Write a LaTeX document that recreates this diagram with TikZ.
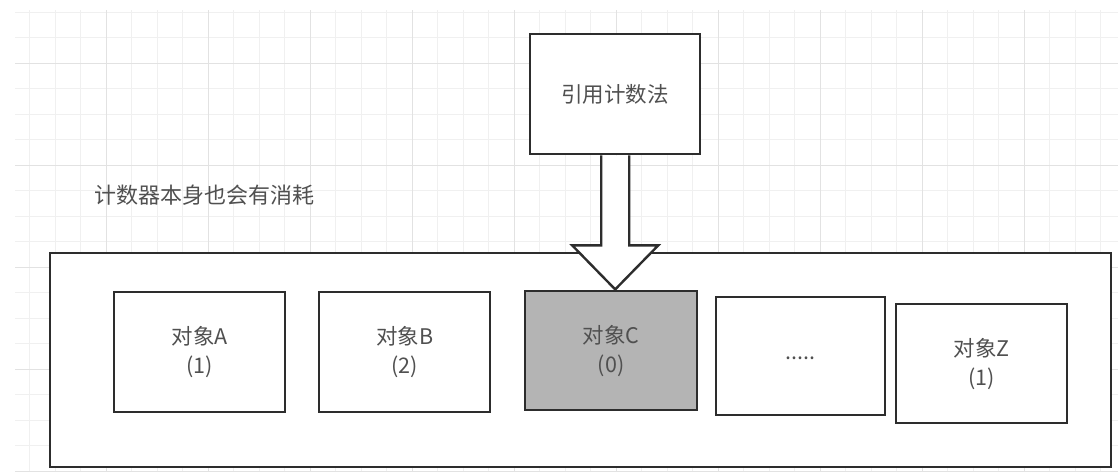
\documentclass[tikz,border=0pt]{standalone}
\usepackage{fontspec}
\setmainfont{Noto Sans CJK SC}
\usetikzlibrary{calc}
\definecolor{linec}{RGB}{45,45,45}
\definecolor{textc}{RGB}{80,80,80}
\definecolor{gridminor}{RGB}{240,240,240}
\definecolor{gridmajor}{RGB}{226,226,226}
\definecolor{cfill}{RGB}{180,180,180}
\begin{document}
\begin{tikzpicture}[x=1pt,y=-1pt,
  box/.style={draw=linec, line width=2.4pt, fill=white, text=textc,
    font=\fontsize{21.5}{29}\selectfont, align=center, inner sep=0pt,
    anchor=north west},
  gminor/.style={draw=gridminor, line width=0.9pt},
  gmajor/.style={draw=gridmajor, line width=1pt},
  blockarrow/.style={draw=linec, line width=2.4pt, fill=white, line join=miter},
  note/.style={text=textc, font=\fontsize{22}{26}\selectfont, anchor=west, inner sep=0pt}
]
\useasboundingbox (0,0) rectangle (1118,472);
\fill[white] (0,0) rectangle (1118,472);
% background grid
\begin{scope}
\clip (15,10) rectangle (1118,472);
\foreach \i in {0,...,43} \draw[gminor] ({4+25.5*\i},10) -- ({4+25.5*\i},472);
\foreach \j in {0,...,18} \draw[gminor] (15,{12+25.5*\j}) -- (1118,{12+25.5*\j});
\foreach \i in {0,...,10} \draw[gmajor] ({4+102*\i},10) -- ({4+102*\i},472);
\foreach \j in {0,...,4} \draw[gmajor] (15,{63+102*\j}) -- (1118,{63+102*\j});
\end{scope}

\node[box, minimum width=1061pt, minimum height=214pt] (outer) at (49,252) {};
\node[box, minimum width=170pt, minimum height=120pt] (top) at (529,33) {引用计数法};
\node[note] (cost) at (94,195) {计数器本身也会有消耗};

\node[box, minimum width=171pt, minimum height=120pt] (objA) at (113,291) {对象A\\(1)};
\node[box, minimum width=171pt, minimum height=120pt] (objB) at (318,291) {对象B\\(2)};
\node[box, minimum width=172pt, minimum height=119pt, fill=cfill] (objC) at (524,290) {对象C\\(0)};
\node[box, minimum width=169pt, minimum height=118pt] (objD) at (715,296) {\raisebox{-6pt}{.....}};
\node[box, minimum width=171pt, minimum height=119pt] (objZ) at (895,303) {对象Z\\(1)};

\coordinate (tip) at ($(top.south)+(0,134)$);
\draw[blockarrow] ($(top.south)+(-14,0)$) -- ($(top.south)+(-14,90)$)
  -- ($(top.south)+(-43,90)$) -- (tip) -- ($(top.south)+(43,90)$)
  -- ($(top.south)+(14,90)$) -- ($(top.south)+(14,0)$);
\end{tikzpicture}
\end{document}
